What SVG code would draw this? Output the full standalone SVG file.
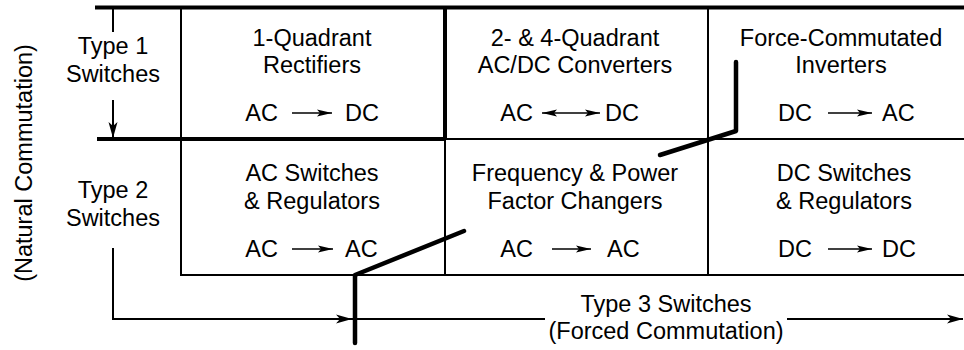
<svg xmlns="http://www.w3.org/2000/svg" width="964" height="350" viewBox="0 0 964 350">
<style>
text{font-family:"Liberation Sans",Arial,sans-serif;font-size:23.5px;fill:#000;text-anchor:middle}
.l{text-anchor:end}.r{text-anchor:start}
.thin{stroke:#000;stroke-width:2;fill:none}
.thick{stroke:#000;stroke-width:4;fill:none}
.jag{stroke:#000;stroke-width:4.5;fill:none;stroke-linecap:round;stroke-linejoin:round}
.sa{stroke:#000;stroke-width:1.6;fill:none}
</style>
<defs>
<marker id="sm" viewBox="-16 -5 17 10" markerWidth="17" markerHeight="10" refX="0" refY="0" orient="auto-start-reverse" markerUnits="userSpaceOnUse">
<path d="M0,0 L-15,-3.6 L-12,0 L-15,3.6 Z" fill="#000"/>
</marker>
<marker id="bg" viewBox="-18 -6 19 12" markerWidth="19" markerHeight="12" refX="0" refY="0" orient="auto" markerUnits="userSpaceOnUse">
<path d="M0,0 L-16,-4.5 L-12,0 L-16,4.5 Z" fill="#000"/>
</marker>
</defs>
<g id="connectors">
<line class="thick" x1="95" y1="7.5" x2="964" y2="7.5"/>
<line class="thick" x1="97" y1="139" x2="445" y2="139"/>
<line class="thin" x1="445" y1="139" x2="964" y2="139"/>
<line class="thick" x1="445" y1="7" x2="445" y2="139"/>
<line class="thin" x1="445" y1="139" x2="445" y2="275"/>
<line class="thin" x1="181" y1="7" x2="181" y2="275"/>
<line class="thin" x1="708" y1="7" x2="708" y2="275"/>
<line class="thin" x1="180" y1="275" x2="964" y2="275"/>
<line class="thin" x1="113" y1="8" x2="113" y2="32"/>
<line class="thin" x1="113" y1="100" x2="113" y2="138" marker-end="url(#bg)"/>
<polyline class="thin" points="113,248 113,319 352,319" marker-end="url(#bg)"/>
<line class="thin" x1="352" y1="319" x2="545" y2="319"/>
<line class="thin" x1="787" y1="319" x2="963" y2="319" marker-end="url(#bg)"/>
<polyline class="jag" points="355,343 355,275 464,231"/>
<polyline class="jag" points="736,62 736,131 660,155"/>
</g>
<g id="natural"><text transform="translate(32,163) rotate(-90)">(Natural Commutation)</text></g>
<g id="type1"><text x="113" y="54">Type 1</text><text x="113" y="82">Switches</text></g>
<g id="type2"><text x="113" y="198">Type 2</text><text x="113" y="226">Switches</text></g>
<g id="type3"><text x="666" y="312">Type 3 Switches</text><text x="666" y="339">(Forced Commutation)</text></g>
<g id="rectifiers">
<text x="312" y="46">1-Quadrant</text><text x="312" y="73">Rectifiers</text>
<text class="l" x="278" y="121">AC</text><line class="sa" x1="292" y1="113" x2="332" y2="113" marker-end="url(#sm)"/><text class="r" x="345" y="121">DC</text>
</g>
<g id="converters">
<text x="575" y="46">2- &amp; 4-Quadrant</text><text x="575" y="73">AC/DC Converters</text>
<text class="l" x="533" y="121">AC</text><line class="sa" x1="542" y1="113" x2="600" y2="113" marker-start="url(#sm)" marker-end="url(#sm)"/><text class="r" x="605" y="121">DC</text>
</g>
<g id="inverters">
<text x="841" y="46">Force-Commutated</text><text x="841" y="73">Inverters</text>
<text class="l" x="812" y="121">DC</text><line class="sa" x1="828" y1="113" x2="872" y2="113" marker-end="url(#sm)"/><text class="r" x="882" y="121">AC</text>
</g>
<g id="acswitches">
<text x="312" y="181">AC Switches</text><text x="312" y="209">&amp; Regulators</text>
<text class="l" x="278" y="257">AC</text><line class="sa" x1="292" y1="249" x2="333" y2="249" marker-end="url(#sm)"/><text class="r" x="345" y="257">AC</text>
</g>
<g id="changers">
<text x="575" y="181">Frequency &amp; Power</text><text x="575" y="209">Factor Changers</text>
<text class="l" x="533" y="257">AC</text><line class="sa" x1="552" y1="249" x2="591" y2="249" marker-end="url(#sm)"/><text class="r" x="607" y="257">AC</text>
</g>
<g id="dcswitches">
<text x="844" y="181">DC Switches</text><text x="844" y="209">&amp; Regulators</text>
<text class="l" x="812" y="257">DC</text><line class="sa" x1="828" y1="249" x2="872" y2="249" marker-end="url(#sm)"/><text class="r" x="882" y="257">DC</text>
</g>
</svg>
